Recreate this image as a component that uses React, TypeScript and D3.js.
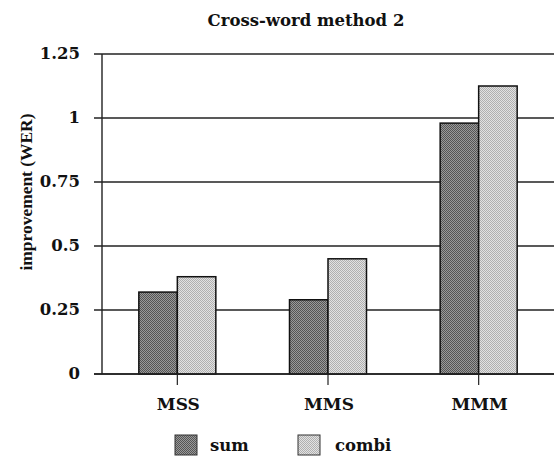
import React from "react";
import * as d3 from "d3";

const categories = ["MSS", "MMS", "MMM"];
const seriesNames = ["sum", "combi"];
const sumValues = [0.32, 0.29, 0.98];
const combiValues = [0.38, 0.45, 1.125];
const yTicks = [0, 0.25, 0.5, 0.75, 1, 1.25];
const yTickLabels = ["0", "0.25", "0.5", "0.75", "1", "1.25"];

const W = 555;
const H = 458;
const left = 102;
const right = 554;
const top = 54;
const bottom = 374;
const font = "'DejaVu Serif', 'Liberation Serif', serif";
const labelFont = "'Liberation Serif', 'DejaVu Serif', serif";

export default function App() {
  const x = d3.scaleBand<string>().domain(categories).range([left, right]).paddingInner(0).paddingOuter(0);
  const y = d3.scaleLinear().domain([0, 1.25]).range([bottom, top]);
  const inner = d3.scaleBand<string>().domain(seriesNames).range([-38.5, 38.5]);
  const series = [
    { name: "sum", values: sumValues, fill: "url(#patSum)" },
    { name: "combi", values: combiValues, fill: "url(#patCombi)" },
  ];
  return (
    <div style={{ position: "absolute", left: 0, top: 0 }}>
      <svg width={W} height={H} style={{ display: "block", background: "#fff" }}>
        <defs>
          <pattern id="patSum" patternUnits="userSpaceOnUse" width={2} height={2}>
            <rect width={2} height={2} fill="#9a9a9a" />
            <rect width={1} height={1} fill="#555" />
            <rect x={1} y={1} width={1} height={1} fill="#555" />
          </pattern>
          <pattern id="patCombi" patternUnits="userSpaceOnUse" width={2} height={2}>
            <rect width={2} height={2} fill="#e2e2e2" />
            <rect width={1} height={1} fill="#b0b0b0" />
            <rect x={1} y={1} width={1} height={1} fill="#b0b0b0" />
          </pattern>
        </defs>
        <text x={306} y={26} textAnchor="middle" fontFamily={font} fontWeight="bold" fontSize={16.5} fill="#111">
          Cross-word method 2
        </text>
        {yTicks.map((t, i) => (
          <g key={t}>
            <line x1={left - 8} x2={right} y1={y(t)} y2={y(t)} stroke="#222" strokeWidth={1.4} />
            <text x={80} y={y(t) + 5} textAnchor="end" fontFamily={font} fontWeight="bold" fontSize={16.5} fill="#111">
              {yTickLabels[i]}
            </text>
          </g>
        ))}
        <line x1={left} x2={left} y1={top} y2={bottom} stroke="#222" strokeWidth={1.4} />
        <text
          transform={`translate(32,192) rotate(-90)`}
          textAnchor="middle"
          fontFamily={labelFont}
          fontWeight="bold"
          fontSize={17.5}
          textLength={157}
          lengthAdjust="spacingAndGlyphs"
          fill="#111"
        >
          improvement (WER)
        </text>
        {series.map((s) =>
          s.values.map((v, i) => {
            const cx = (x(categories[i]) as number) + x.bandwidth() / 2;
            const bx = cx + (inner(s.name) as number);
            return (
              <rect
                key={s.name + i}
                x={bx}
                y={y(v)}
                width={inner.bandwidth()}
                height={y(0) - y(v)}
                fill={s.fill}
                stroke="#111"
                strokeWidth={1.5}
              />
            );
          })
        )}
        {categories.map((c) => {
          const cx = (x(c) as number) + x.bandwidth() / 2;
          return (
            <g key={c}>
              <line x1={cx} x2={cx} y1={bottom} y2={bottom + 11} stroke="#222" strokeWidth={1.2} />
              <text x={cx + 1} y={410} textAnchor="middle" fontFamily={font} fontWeight="bold" fontSize={17} fill="#111">
                {c}
              </text>
            </g>
          );
        })}
        <line x1={left - 8} x2={right} y1={bottom} y2={bottom} stroke="#222" strokeWidth={1.5} />
        {series.map((s, i) => {
          const lx = [175, 298][i];
          const tx = [210, 335][i];
          return (
            <g key={s.name}>
              <rect x={lx} y={435} width={22} height={20} fill={s.fill} stroke="#333" strokeWidth={1} />
              <text x={tx} y={451} fontFamily={font} fontWeight="bold" fontSize={16.5} fill="#111">
                {s.name}
              </text>
            </g>
          );
        })}
      </svg>
    </div>
  );
}
